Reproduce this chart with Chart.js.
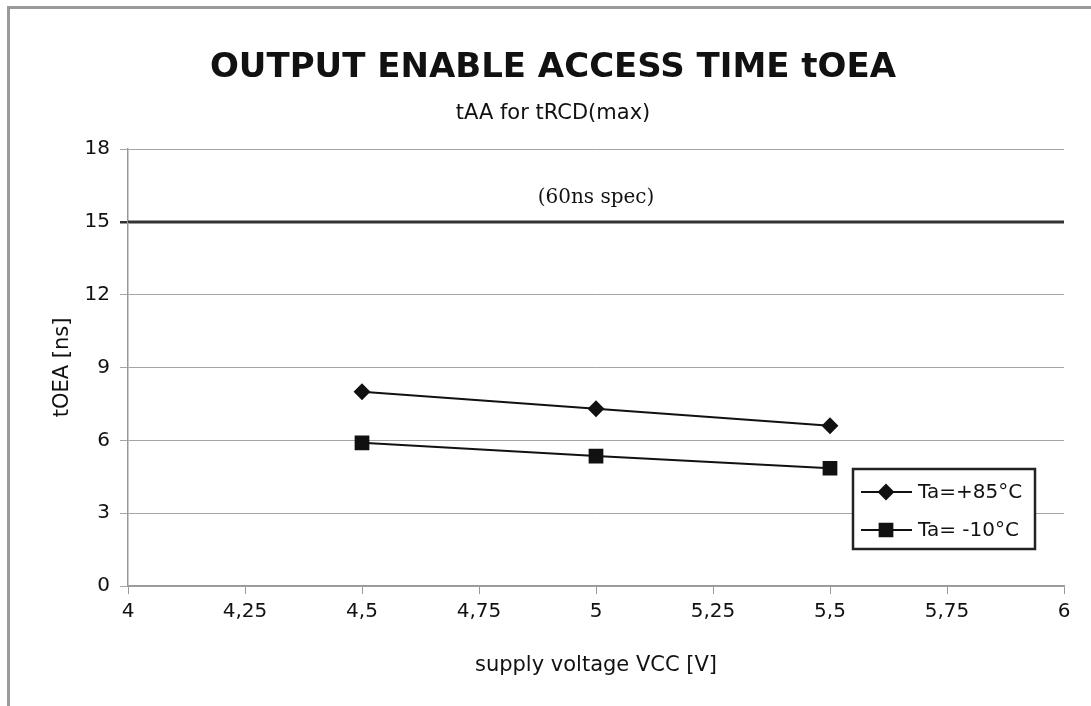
<!DOCTYPE html>
<html>
<head>
<meta charset="utf-8">
<script src="https://cdn.jsdelivr.net/npm/chart.js@4.4.0/dist/chart.umd.min.js"></script>
<style>
html, body { margin: 0; padding: 0; background: #fff; overflow: hidden; }
#frame { position: absolute; left: 7px; top: 6px; width: 1100px; height: 720px; border-left: 3px solid #9a9a9a; border-top: 3px solid #9a9a9a; }
#wrap { position: absolute; left: 0; top: 0; width: 1091px; height: 706px; }
</style>
</head>
<body>
<div id="frame"></div>
<div id="wrap"><canvas id="chart"></canvas></div>
<script>
// data
var voltage = [4.5, 5, 5.5];
var hotValues = [8.0, 7.3, 6.6];     // Ta=+85°C
var coldValues = [5.9, 5.35, 4.85];  // Ta= -10°C
var specVoltage = [4, 6];
var specValues = [15, 15];
var xTickValues = [4, 4.25, 4.5, 4.75, 5, 5.25, 5.5, 5.75, 6];
var yTickValues = [0, 3, 6, 9, 12, 15, 18];
var seriesNames = ['Ta=+85°C', 'Ta= -10°C'];
var specLabel = '(60ns spec)';
var titleText = 'OUTPUT ENABLE ACCESS TIME tOEA';
var subtitleText = 'tAA for tRCD(max)';

function toPoints(xs, ys) {
    return xs.map(function (x, i) { return { x: x, y: ys[i] }; });
}

function comma(v) {
    return String(v).replace('.', ',');
}

// titles, legend box and spec label
var extrasPlugin = {
    id: 'extras',
    afterDatasetsDraw: function (chart) {
        var ctx = chart.ctx;
        var area = chart.chartArea;
        var ys = chart.scales.y;

        ctx.save();
        ctx.fillStyle = '#111';
        ctx.textAlign = 'center';
        ctx.textBaseline = 'alphabetic';
        ctx.font = 'bold 34px "DejaVu Sans"';
        ctx.fillText(titleText, 553, 77);
        ctx.font = '21px "DejaVu Sans"';
        ctx.fillText(subtitleText, 553, 119);

        ctx.font = '20px "DejaVu Serif"';
        ctx.textBaseline = 'middle';
        ctx.fillText(specLabel, (area.left + area.right) / 2, ys.getPixelForValue(specValues[0]) - 24);

        // legend box
        var bx = area.right - 211, by = area.bottom - 117, bw = 182, bh = 80;
        ctx.fillStyle = '#fff';
        ctx.fillRect(bx, by, bw, bh);
        ctx.strokeStyle = '#222';
        ctx.lineWidth = 2.5;
        ctx.strokeRect(bx, by, bw, bh);

        ctx.font = '20px "DejaVu Sans"';
        ctx.textAlign = 'left';
        for (var i = 0; i < 2; i++) {
            var ds = chart.data.datasets[i];
            var cy = by + 23 + i * 38;
            ctx.strokeStyle = ds.borderColor;
            ctx.fillStyle = ds.backgroundColor;
            ctx.lineWidth = 2;
            ctx.beginPath();
            ctx.moveTo(bx + 8, cy);
            ctx.lineTo(bx + 59, cy);
            ctx.stroke();
            Chart.helpers.drawPoint(ctx, {
                pointStyle: ds.pointStyle,
                radius: ds.pointRadius,
                borderWidth: 1
            }, bx + 33, cy);
            ctx.fillStyle = '#111';
            ctx.fillText(seriesNames[i], bx + 65, cy + 1);
        }
        ctx.restore();
    }
};

var ctx = document.getElementById('chart').getContext('2d');
var myChart = new Chart(ctx, {
    type: 'scatter',
    data: {
        datasets: [{
            label: seriesNames[0],
            data: toPoints(voltage, hotValues),
            showLine: true,
            borderColor: '#111',
            backgroundColor: '#111',
            borderWidth: 2,
            pointStyle: 'rectRot',
            pointRadius: 7,
            pointHoverRadius: 7
        }, {
            label: seriesNames[1],
            data: toPoints(voltage, coldValues),
            showLine: true,
            borderColor: '#111',
            backgroundColor: '#111',
            borderWidth: 2,
            pointStyle: 'rect',
            pointRadius: 9,
            pointHoverRadius: 9
        }, {
            label: 'spec',
            data: toPoints(specVoltage, specValues),
            showLine: true,
            borderColor: '#333',
            borderWidth: 2.5,
            pointRadius: 0
        }]
    },
    options: {
        responsive: true,
        maintainAspectRatio: false,
        animation: false,
        layout: { padding: { top: 149, left: 0, right: 27, bottom: 0 } },
        plugins: {
            legend: { display: false },
            tooltip: { enabled: false },
            title: { display: false },
            subtitle: { display: false }
        },
        scales: {
            x: {
                type: 'linear',
                min: 4,
                max: 6,
                afterFit: function (scale) { scale.height = 120; },
                afterBuildTicks: function (scale) {
                    scale.ticks = xTickValues.map(function (v) { return { value: v }; });
                },
                ticks: {
                    color: '#111',
                    font: { family: 'DejaVu Sans', size: 20 },
                    padding: 6,
                    maxRotation: 0,
                    callback: function (v) { return comma(v); }
                },
                grid: { drawOnChartArea: false, drawTicks: true, tickLength: 8, color: '#999' },
                border: { color: '#999', width: 1.5 },
                title: {
                    display: true,
                    text: 'supply voltage VCC [V]',
                    color: '#111',
                    font: { family: 'DejaVu Sans', size: 21 },
                    padding: { top: 4, bottom: 28 }
                }
            },
            y: {
                min: 0,
                max: 18,
                afterFit: function (scale) { scale.width = 128; },
                afterBuildTicks: function (scale) {
                    scale.ticks = yTickValues.map(function (v) { return { value: v }; });
                },
                ticks: {
                    color: '#111',
                    font: { family: 'DejaVu Sans', size: 20 },
                    padding: 10
                },
                grid: {
                    tickLength: 8,
                    color: function (c) { return c.tick && c.tick.value === specValues[0] ? '#333' : '#a5a5a5'; },
                    lineWidth: function (c) { return c.tick && c.tick.value === specValues[0] ? 2.5 : 1; }
                },
                border: { color: '#999', width: 1.5 },
                title: {
                    display: true,
                    text: 'tOEA [ns]',
                    color: '#111',
                    font: { family: 'DejaVu Sans', size: 21 },
                    padding: { top: 50, bottom: 0 }
                }
            }
        }
    },
    plugins: [extrasPlugin]
});
</script>
</body>
</html>
